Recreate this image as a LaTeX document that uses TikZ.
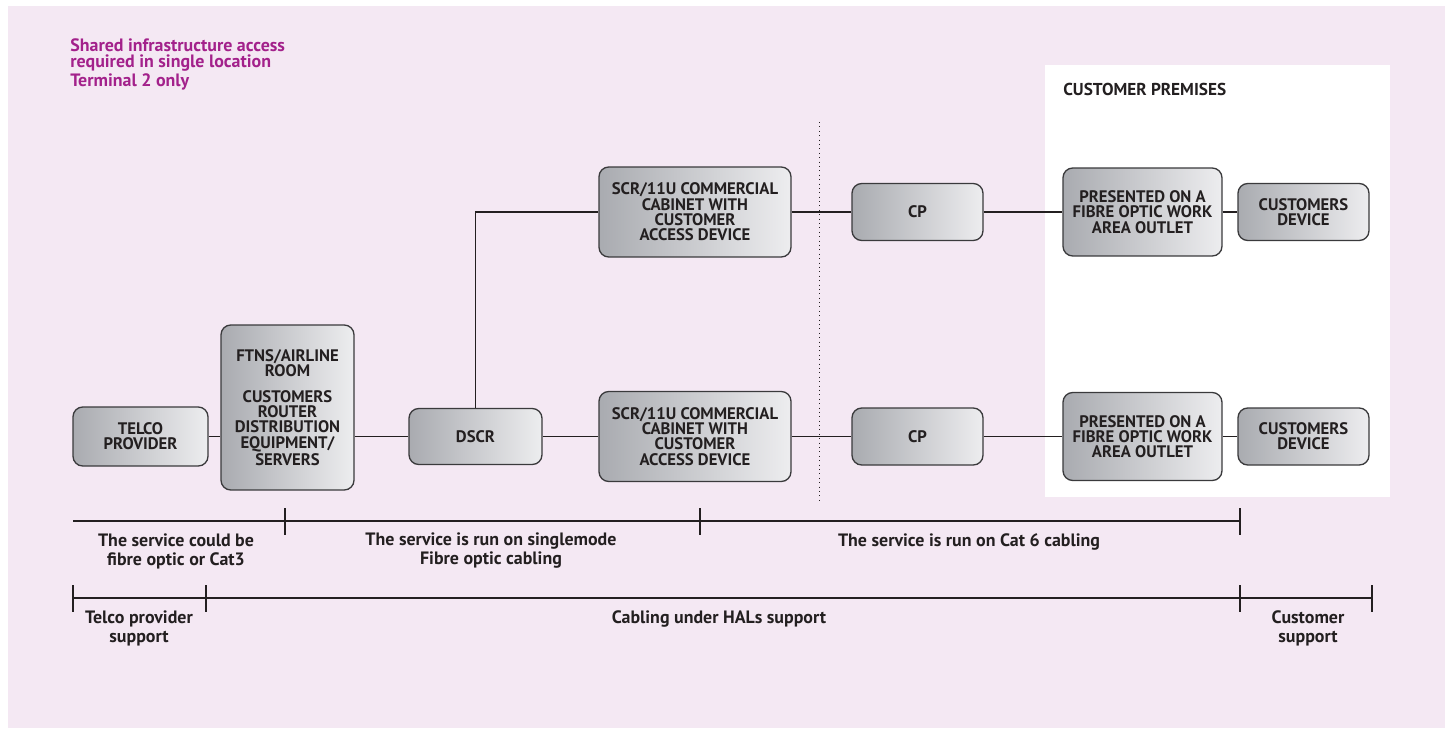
\documentclass[tikz,border=0pt]{standalone}
\usepackage{fontspec}
\setmainfont{PT Sans}
\usepackage{tikz}
\usetikzlibrary{calc}
\definecolor{page}{HTML}{F4E8F3}
\definecolor{magenta}{HTML}{A3218B}
\definecolor{ink}{HTML}{231F20}
\definecolor{edge}{HTML}{3A3A3C}
\definecolor{boxL}{HTML}{A9ABB0}
\definecolor{boxR}{HTML}{EDEDEF}
\tikzset{
  box/.style={draw=edge, line width=0.75pt, rounded corners=5.5pt,
    left color=boxL, right color=boxR, align=center, inner sep=1pt,
    text=ink, font=\fontsize{9.5}{8.7}\selectfont\bfseries},
  wire/.style={draw=ink, line width=0.7pt},
  lab/.style={text=ink, align=center, inner sep=0pt,
    font=\fontsize{10.2}{10.8}\selectfont\bfseries},
  rule/.style={draw=ink, line width=0.7pt},
  title/.style={text=magenta, align=left, inner sep=0pt,
    font=\fontsize{10.2}{9.4}\selectfont\bfseries}
}
\begin{document}
\begin{tikzpicture}[x=0.02cm, y=-0.02cm]
\useasboundingbox (0,0) rectangle (1451,731);
\fill[white] (0,0) rectangle (1451,731);
\fill[page] (8,6) rectangle (1445,728);
\fill[white] (1045,65) rectangle (1390,497);
\node[title, anchor=west] (head) at (70,64) {Shared infrastructure access\\required in single location\\Terminal 2 only};
\node[lab, anchor=west, font=\fontsize{9.8}{10}\selectfont\bfseries] (prem) at (1063,89) {CUSTOMER PREMISES};
% divider
\coordinate (divTop) at (819,122);
\coordinate (divBot) at (819,500);
\draw[ink, line width=0.5pt, dotted] (divTop) -- (divBot);
% boxes
\node[box, minimum width=2.7cm, minimum height=1.18cm] (telco) at (140.5,436.5) {TELCO\\PROVIDER};
\node[box, minimum width=2.66cm, minimum height=3.3cm] (ftns) at (287.5,407.5) {FTNS/AIRLINE\\ROOM\\[5.8pt]CUSTOMERS\\ROUTER\\DISTRIBUTION\\EQUIPMENT/\\SERVERS};
\node[box, minimum width=2.66cm, minimum height=1.12cm] (dscr) at (475.5,436.5) {DSCR};
\node[box, minimum width=3.84cm, minimum height=1.8cm] (scrA) at (695,212) {SCR/11U COMMERCIAL\\CABINET WITH\\CUSTOMER\\ACCESS DEVICE};
\node[box, minimum width=3.84cm, minimum height=1.8cm] (scrB) at (695,436.5) {SCR/11U COMMERCIAL\\CABINET WITH\\CUSTOMER\\ACCESS DEVICE};
\node[box, minimum width=2.62cm, minimum height=1.14cm] (cpA) at (917.5,212) {CP};
\node[box, minimum width=2.62cm, minimum height=1.14cm] (cpB) at (917.5,436.5) {CP};
\node[box, minimum width=3.18cm, minimum height=1.76cm] (outA) at (1142.5,212) {PRESENTED ON A\\FIBRE OPTIC WORK\\AREA OUTLET};
\node[box, minimum width=3.18cm, minimum height=1.76cm] (outB) at (1142.5,436.5) {PRESENTED ON A\\FIBRE OPTIC WORK\\AREA OUTLET};
\node[box, minimum width=2.62cm, minimum height=1.14cm] (devA) at (1303.5,212) {CUSTOMERS\\DEVICE};
\node[box, minimum width=2.62cm, minimum height=1.14cm] (devB) at (1303.5,436.5) {CUSTOMERS\\DEVICE};
% connectors
\draw[wire] (telco.east) -- (telco.east -| ftns.west);
\draw[wire] (dscr.west -| ftns.east) -- (dscr.west);
\draw[wire] (dscr.east) -- (scrB.west);
\draw[wire] (dscr.north) -- (dscr.north |- scrA.west) -- (scrA.west);
\draw[wire] (scrA.east) -- (cpA.west);
\draw[wire] (scrB.east) -- (cpB.west);
\draw[wire] (cpA.east) -- (outA.west);
\draw[wire] (cpB.east) -- (outB.west);
\draw[wire] (outA.east) -- (devA.west);
\draw[wire] (outB.east) -- (devB.west);
% cabling spans
\coordinate (runL) at (73,521);
\coordinate (runR) at (1240,521);
\draw[rule] (runL) -- (runR);
\foreach \x in {285,700,1240}
  \draw[rule] (\x,508) -- (\x,535);
\node[lab] (runA) at (176,551) {The service could be\\fibre optic or Cat3};
\node[lab] (runB) at (491,551) {The service is run on singlemode\\Fibre optic cabling};
\node[lab] (runC) at (969,542) {The service is run on Cat 6 cabling};
% support spans
\coordinate (supL) at (73,598);
\coordinate (supR) at (1372,598);
\draw[rule] (supL) -- (supR);
\foreach \x in {73,206,1240,1372}
  \draw[rule] (\x,585) -- (\x,612);
\node[lab] (supA) at (139,628) {Telco provider\\support};
\node[lab] (supB) at (719,619) {Cabling under HALs support};
\node[lab] (supC) at (1308,628) {Customer\\support};
\end{tikzpicture}
\end{document}
